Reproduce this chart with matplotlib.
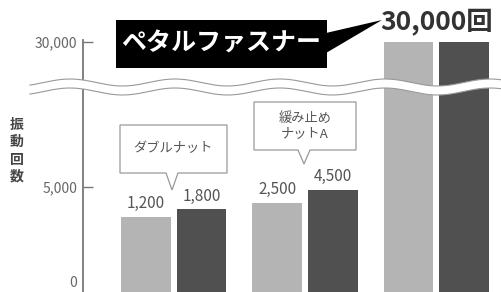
import numpy as np
import matplotlib
matplotlib.use('Agg')
import matplotlib.pyplot as plt
from matplotlib.patches import Polygon, Rectangle
from matplotlib.transforms import ScaledTranslation

plt.rcParams['font.family'] = ['Noto Sans CJK JP', 'DejaVu Sans']

# データ
groups = ['ダブルナット', '緩み止め\nナットA', 'ペタルファスナー']
light_vals = [1200, 2500, 30000]
dark_vals = [1800, 4500, 30000]
yticks = [0, 5000, 30000]
ytick_labels = ['0', '5,000', '30,000']
ylabel = '振動回数'
top_label = '30,000回'

W, H = 502, 292

def fx(x):
    return x / W

def fy(y):
    return 1 - y / H

# 下は圧縮、5,000より上は直線(途中を波線で省略)
def fwd(v):
    v = np.clip(np.asarray(v, dtype=float), 0, None)
    return np.where(v <= 5000, 107 * (v / 5000) ** 0.23, 107 + (v - 5000) * 145 / 25000)

def inv(p):
    p = np.clip(np.asarray(p, dtype=float), 0, None)
    return np.where(p <= 107, 5000 * (p / 107) ** (1 / 0.23), 5000 + (p - 107) * 25000 / 145)

fig = plt.figure(figsize=(W / 100, H / 100), dpi=100)
ax = fig.add_axes([fx(83), -2 / H, 1 - fx(83), 254 / H])
ax.set_yscale('function', functions=(fwd, inv))

x = np.arange(len(groups))
bw = 0.377
off = 0.212
ax.bar(x - off, light_vals, bw, color='#b4b4b4')
ax.bar(x + off, dark_vals, bw, color='#505050')

ax.set_xlim(-0.69, 2.50)
ax.set_ylim(0, 30345)
ax.set_yticks(yticks)
ax.set_yticklabels(ytick_labels)
ax.set_xticks([])
ax.tick_params(axis='y', direction='in', length=7, width=1, color='#777777',
               labelsize=10, labelcolor='#666666', pad=4)
lab0 = ax.get_yticklabels()[0]
lab0.set_va('bottom')
lab0.set_transform(lab0.get_transform() + ScaledTranslation(0, 3 / 72, fig.dpi_scale_trans))
for s in ['top', 'right']:
    ax.spines[s].set_visible(False)
ax.spines['left'].set_color('#777777')
ax.spines['left'].set_linewidth(1.3)
ax.spines['bottom'].set_color('#bbbbbb')

# 棒の上の数値
for i in range(2):
    ax.annotate(f'{light_vals[i]:,}', (x[i] - off, light_vals[i]), xytext=(0, 9.5),
                textcoords='offset points', ha='center', va='center', fontsize=11, color='#555555')
    ax.annotate(f'{dark_vals[i]:,}', (x[i] + off, dark_vals[i]), xytext=(0, 9.5),
                textcoords='offset points', ha='center', va='center', fontsize=11, color='#555555')

ax.annotate(top_label, (x[2], dark_vals[2]), xytext=(0, 14.5), textcoords='offset points',
            ha='center', va='center', fontsize=19, fontweight='bold', color='#333333')

# 波線(省略記号)
xs = np.linspace(30, W, 600)
yc = 87 - 3.5 * np.cos(2 * np.pi * (xs - 385) / 105)
up = yc - 4.5
lo = yc + 4.5
band = np.column_stack([np.r_[xs, xs[::-1]], np.r_[up, lo[::-1]]])
band = np.column_stack([fx(band[:, 0]), fy(band[:, 1])])
fig.add_artist(Polygon(band, closed=True, facecolor='white', edgecolor='none',
                       transform=fig.transFigure, zorder=5))
for yy in (up, lo):
    fig.add_artist(plt.Line2D(fx(xs), fy(yy), color='#999999', lw=0.8,
                              transform=fig.transFigure, zorder=6))

# 吹き出し
def bubble(x0, y0, x1, y1, bl, br, tx, ty):
    pts = [(x0, y0), (x1, y0), (x1, y1), (br, y1), (tx, ty), (bl, y1), (x0, y1)]
    pts = [(fx(a), fy(b)) for a, b in pts]
    fig.add_artist(Polygon(pts, closed=True, facecolor='white', edgecolor='#999999',
                           lw=0.9, transform=fig.transFigure, zorder=7))

bubble(120, 125, 227, 173, 166, 178, 172, 190)
fig.text(fx(173), fy(149), groups[0], ha='center', va='center', fontsize=9.5,
         color='#555555', zorder=8)
bubble(254, 102, 356, 150, 298, 310, 304, 164)
fig.text(fx(305), fy(126), groups[1], ha='center', va='center', fontsize=9.5,
         color='#555555', linespacing=1.2, zorder=8)

# 黒いラベル
fig.add_artist(Rectangle((fx(116), fy(68)), fx(327) - fx(116), fy(20) - fy(68),
                         facecolor='black', edgecolor='none', transform=fig.transFigure, zorder=7))
fig.add_artist(Polygon([(fx(326), fy(33)), (fx(382), fy(20)), (fx(326), fy(53))],
                       closed=True, facecolor='black', edgecolor='none',
                       transform=fig.transFigure, zorder=7))
fig.text(fx(221), fy(44), groups[2], ha='center', va='center', fontsize=18,
         fontweight='bold', color='white', zorder=8)

# 縦書きの軸ラベル
for i, ch in enumerate(ylabel):
    fig.text(fx(17), fy(125 + 17.3 * i), ch, ha='center', va='center', fontsize=10,
             fontweight='bold', color='#444444')

fig.savefig('out.png', dpi=100)
